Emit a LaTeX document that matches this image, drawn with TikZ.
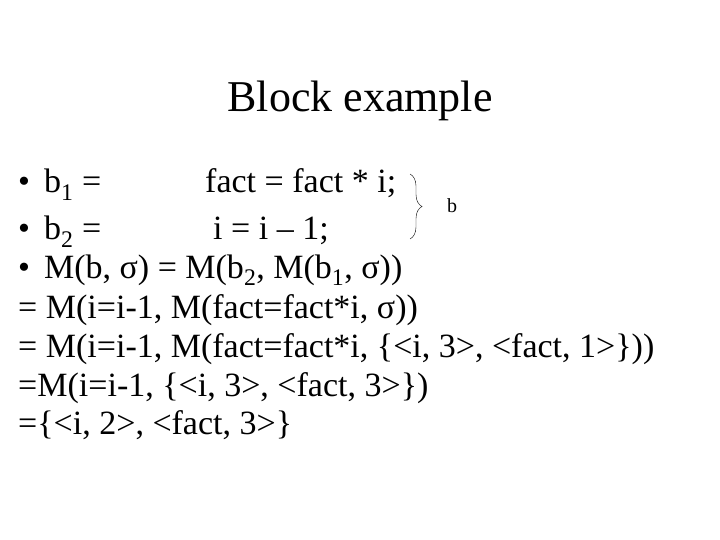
\documentclass[tikz,border=0pt]{standalone}
\usepackage{fontspec}
\setmainfont{Liberation Serif}
\usetikzlibrary{decorations.pathreplacing}
\tikzset{txt/.style={anchor=base west,inner sep=0pt,font=\fontsize{34}{40}\selectfont}}
\newcommand{\bul}{\textbullet\hspace{14pt}}
\begin{document}
\begin{tikzpicture}[x=1pt,y=-1pt]
	\useasboundingbox (0,0) rectangle (720,540);
	\node[anchor=base,inner sep=0pt,font=\fontsize{44}{50}\selectfont] (title) at (360,112) {Block example};
	% bullets
	\node[txt] (l1) at (18,193) {\bul b\textsubscript{1} =};
	\node[txt] (c1) at (205,193) {fact = fact * i;};
	\node[txt] (l2) at (18,240) {\bul b\textsubscript{2} =};
	\node[txt] (c2) at (213,240) {i = i -- 1;};
	\node[txt] (l3) at (18,278) {\bul M(b, σ) = M(b\textsubscript{2}, M(b\textsubscript{1}, σ))};
	\node[txt] (l4) at (18,318) {= M(i=i-1, M(fact=fact*i, σ))};
	\node[txt] (l5) at (18,357) {= M(i=i-1, M(fact=fact*i, \{<i, 3>, <fact, 1>\}))};
	\node[txt] (l6) at (18,396) {=M(i=i-1, \{<i, 3>, <fact, 3>\})};
	\node[txt] (l7) at (18,434) {=\{<i, 2>, <fact, 3>\}};
	%BRACE
	\draw[decorate,decoration={brace,amplitude=12pt,aspect=0.5}] (410,174) -- (410,239);
	\node[anchor=west,inner sep=0pt,font=\fontsize{20}{24}\selectfont] (b) at (447,206) {b};
\end{tikzpicture}
\end{document}
